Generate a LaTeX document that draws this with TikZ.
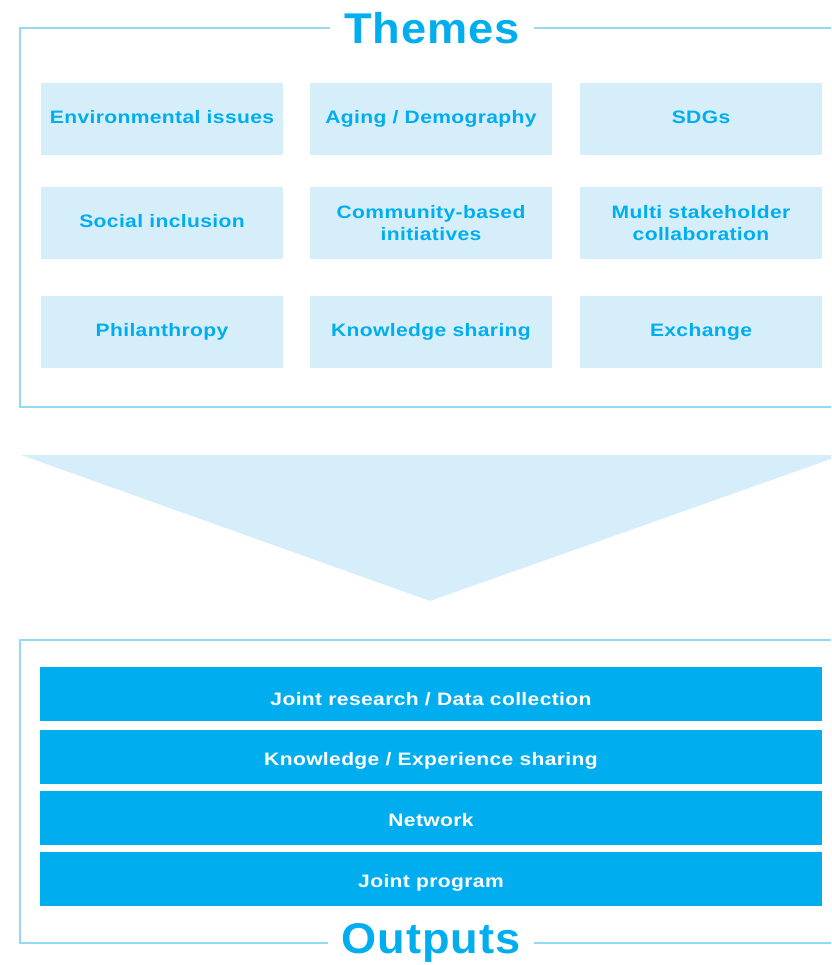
\documentclass[tikz,border=0pt]{standalone}
\usepackage{fontspec}
\setmainfont{Liberation Sans}
\newfontfamily\widefont[FakeStretch=1.17, LetterSpace=2]{Liberation Sans}
\newfontfamily\titlefont[FakeStretch=1.05, LetterSpace=2]{Liberation Sans}
\definecolor{themecyan}{HTML}{00AEEF}
\definecolor{themepale}{HTML}{D6EEFA}
\definecolor{themeline}{HTML}{92D9F6}
\begin{document}
\begin{tikzpicture}[x=1pt, y=-1pt,
                    framebox/.style={draw=themeline, line width=2pt},
                    title/.style={fill=white, inner xsep=14pt, inner ysep=0pt, text=themecyan, font=\titlefont\fontsize{43}{43}\selectfont\bfseries},
                    themebox/.style={fill=themepale, text=themecyan, minimum width=242pt, minimum height=72pt, inner sep=0pt, align=center, font=\widefont\fontsize{18}{22}\selectfont\bfseries},
                    oneline/.style={text height=9pt, text depth=0pt},
                    outbox/.style={fill=themecyan, text=white, minimum width=782pt, minimum height=54pt, inner sep=0pt, text height=17pt, text depth=0pt, font=\widefont\fontsize{18}{22}\selectfont\bfseries}]

                    \useasboundingbox (0,0) rectangle (831,965);

                    % Themes frame and title
                    \node[title] (themes) at (432,28) {Themes};
                    \draw[framebox] (themes.west |- 0,28) -- (20,28) -- (20,407) -- (831,407);
                    \draw[framebox] (themes.east |- 0,28) -- (831,28);

                    % Theme boxes, three per row
                    \node[themebox, oneline] (env) at (162,119) {Environmental issues};
                    \node[themebox, oneline] (aging) at (431,119) {Aging / Demography};
                    \node[themebox, oneline] (sdg) at (701,119) {SDGs};
                    \node[themebox, oneline] (social) at (162,223) {Social inclusion};
                    \node[themebox] (community) at (431,223) {Community-based\\initiatives};
                    \node[themebox] (multi) at (701,223) {Multi stakeholder\\collaboration};
                    \node[themebox, oneline] (phil) at (162,332) {Philanthropy};
                    \node[themebox, oneline] (know) at (431,332) {Knowledge sharing};
                    \node[themebox, oneline] (exch) at (701,332) {Exchange};

                    % Big arrow down
                    \fill[themepale] (21,455) -- (831,455) -- (831,459) -- (430,601) -- cycle;

                    % Outputs frame and title
                    \node[title] (outputs) at (431,943) {Outputs};
                    \draw[framebox] (outputs.west |- 0,943) -- (20,943) -- (20,640) -- (831,640);
                    \draw[framebox] (outputs.east |- 0,943) -- (831,943);

                    % Output bars
                    \node[outbox, text height=22pt] (research) at (431,694) {Joint research / Data collection};
                    \node[outbox] (experience) at (431,757) {Knowledge / Experience sharing};
                    \node[outbox] (network) at (431,818) {Network};
                    \node[outbox] (program) at (431,879) {Joint program};
\end{tikzpicture}
\end{document}
